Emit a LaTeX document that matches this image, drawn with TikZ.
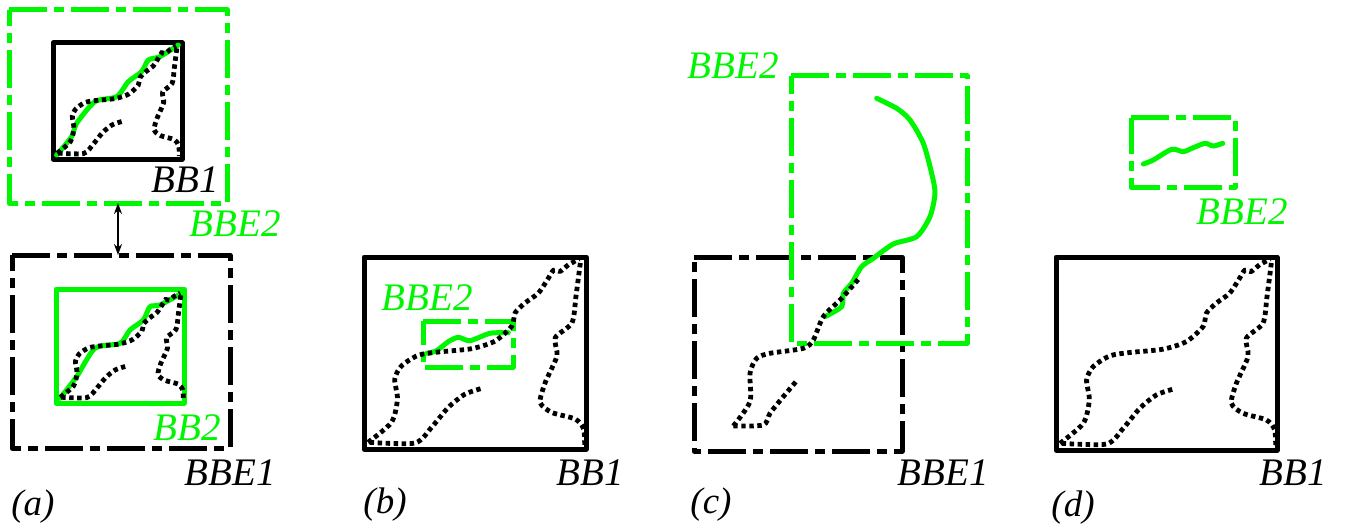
\documentclass[tikz,border=0pt]{standalone}
\usepackage{fontspec}
\setmainfont{Liberation Serif}
\usetikzlibrary{arrows.meta}
\definecolor{bgreen}{RGB}{0,245,0}
\tikzset{
  lbl/.style={inner sep=0pt,font=\fontsize{39}{39}\selectfont\itshape},
  glbl/.style={lbl,text=bgreen},
  plbl/.style={inner sep=0pt,font=\fontsize{37}{37}\selectfont\itshape},
  bx/.style={anchor=north west,inner sep=0pt,outer sep=0pt},
  solidblack/.style={bx,draw=black,line width=5pt,line join=round},
  solidgreen/.style={bx,draw=bgreen,line width=5pt,line join=round},
  ddline/.style={line width=5pt,line join=round,dash pattern=on 38pt off 7pt on 10pt off 7pt},
  dots/.style={draw=black,line width=4.8pt,dash pattern=on 4.4pt off 3.6pt,smooth,tension=0.45},
  gcurve/.style={draw=bgreen,line width=5pt,line cap=round,line join=round,smooth,tension=0.45},
}
\newcommand{\mapcurves}[4]{%
  \pgfmathsetmacro{\msx}{(#3-#1)/664}%
  \pgfmathsetmacro{\msy}{(#4-#2)/578}%
  \pgfmathsetmacro{\mox}{#1-78*\msx}%
  \pgfmathsetmacro{\moy}{#2-472*\msy}%
  \begin{scope}[x=\msx pt,y=-\msy pt,xshift=\mox pt,yshift=-\moy pt]
    \draw[dots] plot coordinates {(90,1030)(160,970)(178,900)(170,840)(190,800)(240,768)(300,758)(400,748)(470,725)(520,680)(530,640)(560,610)(600,580)(630,535)(645,512)(665,515)(690,495)(722,478)};
    \draw[dots] plot coordinates {(95,1030)(230,1032)(280,985)(330,925)(380,885)(432,867)};
    \draw[dots] plot coordinates {(725,490)(712,590)(700,670)(650,715)(655,770)(620,850)(605,910)(640,940)(710,960)(735,990)(738,1045)};
  \end{scope}}
\newcommand{\ddbox}[6]{% colour, name, x, y, w, h
  \node[bx,minimum width=#5pt,minimum height=#6pt] (#2) at (#3,#4) {};
  \draw[ddline,draw=#1] (#2.north west) -- (#2.north east) -- (#2.south east) -- (#2.south west) -- cycle;}
\begin{document}
\begin{tikzpicture}[x=1pt,y=-1pt]
\useasboundingbox (0,0) rectangle (1346,524);
% panel a top
\ddbox{bgreen}{bbeA}{9}{10}{218}{193}
\node[solidblack,minimum width=129pt,minimum height=116pt] (bbA) at (53,43) {};
\begin{scope}[x=0.3333pt,y=-0.3333pt]
\draw[gcurve] plot coordinates {(170,465)(215,410)(230,370)(285,305)(350,290)(385,245)(425,215)(445,180)(480,170)(535,135)};
\end{scope}
\mapcurves{55}{45}{180}{157}
\node[lbl] (tBBa) at (185,180) {BB1};
\node[glbl] (tBBEa) at (235,224) {BBE2};
% panel a bottom
\ddbox{black}{bbeB}{12}{255}{218}{193}
\node[solidgreen,minimum width=128pt,minimum height=114pt] (bbB) at (56,289) {};
\begin{scope}[x=0.3333pt,y=-0.3333pt,yshift=-250pt]
\draw[gcurve] plot coordinates {(180,445)(230,380)(285,295)(360,280)(390,240)(430,210)(450,170)(480,165)(545,130)};
\end{scope}
\mapcurves{58}{292}{184}{401}
\node[glbl] (tBBb) at (187,428) {BB2};
\node[lbl] (tBBEb) at (230,473) {BBE1};
\node[plbl] (ta) at (33,507) {(a)};
\coordinate (arrowx) at (118,0);
\draw[{Stealth[length=11pt,width=8pt]}-{Stealth[length=11pt,width=8pt]},line width=1.8pt] (bbeA.south -| arrowx) -- (bbeB.north -| arrowx);
% panel b
\node[solidblack,minimum width=222pt,minimum height=192pt] (bbC) at (364,257) {};
\ddbox{bgreen}{bbeC}{423}{321}{90}{46}
\begin{scope}[x=0.3333pt,y=-0.3333pt,xshift=350pt,yshift=-250pt]
\draw[gcurve] plot coordinates {(230,310)(260,302)(295,275)(325,262)(360,272)(420,250)(475,248)};
\end{scope}
\mapcurves{364}{257}{586}{449}
\node[glbl] (tBBEc) at (427,298) {BBE2};
\node[lbl] (tBBc) at (590,473) {BB1};
\node[plbl] (tb) at (385,505) {(b)};
% panel c
\ddbox{black}{bbeD}{694}{257}{208}{194}
\ddbox{bgreen}{bbeE}{791}{76}{176}{267}
\begin{scope}[x=0.3333pt,y=-0.3333pt,xshift=670pt,yshift=-40pt]
\draw[gcurve] plot coordinates {(620,175)(680,205)(720,240)(760,310)(785,400)(795,460)(780,530)(740,590)(670,612)(610,655)(575,680)(545,730)(520,760)(515,800)(465,830)};
\draw[dots] plot coordinates {(190,1158)(240,1085)(240,1000)(260,955)(300,940)(400,925)(430,900)(460,830)(515,775)(570,712)};
\draw[dots] plot coordinates {(190,1158)(280,1155)(300,1120)(340,1070)(378,1025)};
\end{scope}
\node[glbl] (tBBEe) at (733,66) {BBE2};
\node[lbl] (tBBEd) at (943,473) {BBE1};
\node[plbl] (tc) at (711,505) {(c)};
% panel d
\ddbox{bgreen}{bbeF}{1131}{118}{104}{69}
\begin{scope}[x=0.3333pt,y=-0.3333pt,xshift=1030pt,yshift=-100pt]
\draw[gcurve] plot coordinates {(340,192)(370,180)(425,148)(460,155)(490,143)(525,130)(550,138)(578,130)};
\end{scope}
\node[glbl] (tBBEf) at (1242,212) {BBE2};
\node[solidblack,minimum width=221pt,minimum height=193pt] (bbG) at (1056,257) {};
\mapcurves{1056}{257}{1277}{450}
\node[lbl] (tBBg) at (1293,473) {BB1};
\node[plbl] (td) at (1073,508) {(d)};
\end{tikzpicture}
\end{document}
